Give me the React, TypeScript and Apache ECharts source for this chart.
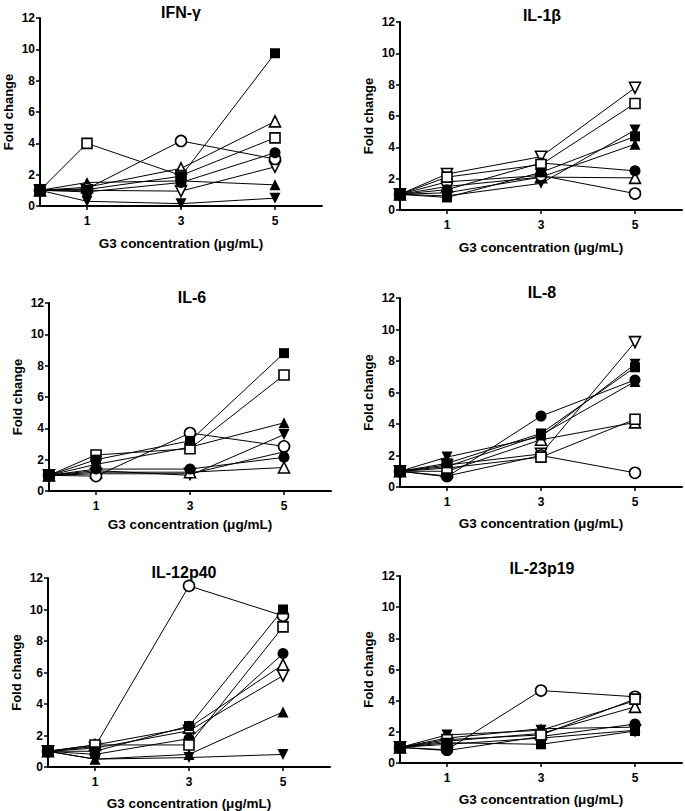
import { useEffect, useRef } from "react";
import * as echarts from "echarts";

// ---------- data ----------
const doses = [0, 1, 3, 5];
const xTickValues = [1, 3, 5];
const yTickMax = 12;
const yTickStep = 2;
const xAxisTitle = "G3 concentration (μg/mL)";
const yAxisTitle = "Fold change";
const panelTitles = ["IFN-γ", "IL-1β", "IL-6", "IL-8", "IL-12p40", "IL-23p19"];

// marker order in each panel array: ■ □ ● ○ ▲ △ ▼ ▽
const markerKeys = ["sqF", "sqO", "ciF", "ciO", "upF", "upO", "dnF", "dnO"];

const ifnGamma = [
  [1, 1.05, 1.9, 9.75],
  [1, 4.0, 1.95, 4.35],
  [1, 0.9, 1.5, 3.4],
  [1, 1.1, 4.15, 3.0],
  [1, 1.5, 1.6, 1.35],
  [1, 1.2, 2.4, 5.4],
  [1, 0.3, 0.15, 0.5],
  [1, 1.0, 0.95, 2.5],
];
const il1Beta = [
  [1, 0.8, 2.4, 4.7],
  [1, 2.1, 2.9, 6.8],
  [1, 1.3, 3.0, 2.5],
  [1, 1.8, 2.2, 1.05],
  [1, 1.1, 2.1, 4.2],
  [1, 1.5, 2.1, 2.05],
  [1, 0.9, 1.7, 5.1],
  [1, 2.3, 3.4, 7.8],
];
const il6 = [
  [1, 2.0, 3.2, 8.8],
  [1, 2.3, 2.7, 7.4],
  [1, 1.4, 1.4, 2.15],
  [1, 0.95, 3.7, 2.85],
  [1, 1.7, 2.8, 4.35],
  [1, 1.2, 1.2, 1.5],
  [1, 1.3, 1.0, 3.6],
  [1, 1.1, 1.1, 2.5],
];
const il8 = [
  [1, 1.5, 3.4, 7.6],
  [1, 1.2, 1.9, 4.3],
  [1, 0.65, 4.5, 6.8],
  [1, 0.7, 2.0, 0.9],
  [1, 1.3, 3.3, 6.7],
  [1, 1.0, 3.0, 4.1],
  [1, 1.9, 3.2, 7.8],
  [1, 1.4, 2.1, 9.2],
];
const il12p40 = [
  [1, 1.0, 2.6, 10.0],
  [1, 1.4, 1.4, 8.9],
  [1, 0.8, 1.8, 7.2],
  [1, 1.3, 11.5, 9.6],
  [1, 0.5, 0.8, 3.5],
  [1, 1.4, 2.5, 6.5],
  [1, 0.5, 0.6, 0.8],
  [1, 1.2, 2.3, 5.8],
];
const il23p19 = [
  [1, 1.3, 1.2, 2.05],
  [1, 1.5, 1.8, 4.1],
  [1, 0.8, 1.7, 2.5],
  [1, 0.85, 4.65, 4.25],
  [1, 1.6, 2.2, 2.3],
  [1, 1.4, 1.9, 3.6],
  [1, 1.8, 2.1, 4.0],
  [1, 1.2, 1.6, 2.1],
];
const panelData = [ifnGamma, il1Beta, il6, il8, il12p40, il23p19];

// ---------- layout / style ----------
const FONT = "'Liberation Sans', Arial, Helvetica, sans-serif";
const grids = [
  { left: 40, top: 18, width: 282, height: 188 },
  { left: 400, top: 22, width: 282, height: 188 },
  { left: 49, top: 303, width: 282, height: 188 },
  { left: 400, top: 298, width: 282, height: 189 },
  { left: 48, top: 578, width: 282, height: 189 },
  { left: 400, top: 576, width: 282, height: 187 },
];
const titlePos = [
  [181, 12],
  [542, 15],
  [192, 297],
  [542, 292],
  [184, 572],
  [542, 568],
];
const xNameGaps = [30, 30, 26, 29, 29, 29];

const markerStyle: Record<string, any> = {
  sqF: { symbol: "rect", size: 10, rotate: 0, filled: true },
  sqO: { symbol: "rect", size: 10, rotate: 0, filled: false },
  ciF: { symbol: "circle", size: 11, rotate: 0, filled: true },
  ciO: { symbol: "circle", size: 11, rotate: 0, filled: false },
  upF: { symbol: "triangle", size: 11, rotate: 0, filled: true },
  upO: { symbol: "triangle", size: 11, rotate: 0, filled: false },
  dnF: { symbol: "triangle", size: 11, rotate: 180, filled: true },
  dnO: { symbol: "triangle", size: 11, rotate: 180, filled: false },
};
// draw order: filled square last (on top)
const drawOrder = [7, 6, 5, 4, 3, 2, 1, 0];

export default function App() {
  const ref = useRef<HTMLDivElement>(null);
  useEffect(() => {
    if (!ref.current) return;
    const chart = echarts.init(ref.current, undefined, { renderer: "svg" });

    const series: any[] = [];
    panelData.forEach((panel, p) => {
      drawOrder.forEach((m) => {
        const st = markerStyle[markerKeys[m]];
        series.push({
          type: "line",
          xAxisIndex: p,
          yAxisIndex: p,
          data: doses.map((d, i) => [d, panel[m][i]]),
          symbol: st.symbol,
          symbolSize: st.size,
          symbolRotate: st.rotate,
          showAllSymbol: true,
          silent: true,
          lineStyle: { color: "#000", width: 1 },
          itemStyle: {
            color: st.filled ? "#000" : "#fff",
            borderColor: "#000",
            borderWidth: st.filled ? 0 : 1.6,
          },
          emphasis: { disabled: true },
        });
      });
    });

    const option: any = {
      animation: false,
      backgroundColor: "#fff",
      grid: grids.map((g) => ({ ...g, containLabel: false })),
      xAxis: grids.map((_, i) => ({
        type: "value",
        gridIndex: i,
        min: 0,
        max: 6,
        name: xAxisTitle,
        nameLocation: "middle",
        nameGap: xNameGaps[i],
        nameTextStyle: { fontFamily: FONT, fontWeight: "bold", fontSize: 13.5, color: "#000" },
        axisLine: { show: true, onZero: false, lineStyle: { color: "#000", width: 2 } },
        axisTick: { show: true, customValues: xTickValues, length: 4, lineStyle: { color: "#000", width: 1.5 } },
        axisLabel: {
          customValues: xTickValues,
          margin: 9,
          fontFamily: FONT,
          fontWeight: "bold",
          fontSize: 12,
          color: "#000",
        },
        splitLine: { show: false },
      })),
      yAxis: grids.map((_, i) => ({
        type: "value",
        gridIndex: i,
        min: 0,
        max: yTickMax,
        interval: yTickStep,
        name: yAxisTitle,
        nameLocation: "middle",
        nameGap: 25,
        nameTextStyle: { fontFamily: FONT, fontWeight: "bold", fontSize: 13, color: "#000" },
        axisLine: { show: true, lineStyle: { color: "#000", width: 2 } },
        axisTick: { show: true, length: 4, lineStyle: { color: "#000", width: 1.5 } },
        axisLabel: { margin: 5, fontFamily: FONT, fontWeight: "bold", fontSize: 12, color: "#000" },
        splitLine: { show: false },
      })),
      graphic: panelTitles.map((t, i) => ({
        type: "text",
        x: titlePos[i][0],
        y: titlePos[i][1],
        silent: true,
        style: {
          text: t,
          align: "center",
          verticalAlign: "middle",
          fontFamily: FONT,
          fontWeight: "bold",
          fontSize: 16,
          fill: "#000",
        },
      })),
      series,
    };
    chart.setOption(option);
    return () => chart.dispose();
  }, []);
  return (
    <div
      ref={ref}
      style={{ position: "absolute", left: 0, top: 0, width: 685, height: 811, background: "#fff" }}
    />
  );
}
